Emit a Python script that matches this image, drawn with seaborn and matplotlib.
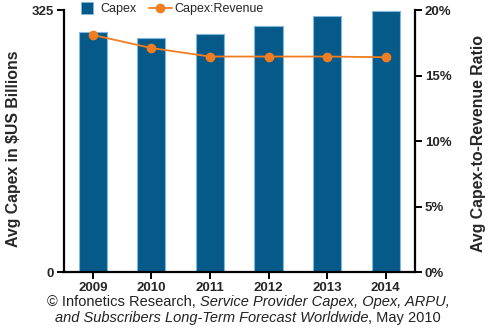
import matplotlib
matplotlib.use("Agg")
import matplotlib.pyplot as plt
import seaborn as sns
import pandas as pd
from matplotlib.lines import Line2D

years = ["2009", "2010", "2011", "2012", "2013", "2014"]
capex = [298, 290, 295, 305, 318, 324]
ratio = [18.1, 17.1, 16.45, 16.45, 16.45, 16.4]
left_ticks = [0, 325]
right_ticks = [0, 5, 10, 15, 20]

sns.set_style("white")
plt.rcParams["font.family"] = ["Liberation Sans", "DejaVu Sans"]

BLUE = "#065a8a"
ORANGE = "#f07d1f"

df = pd.DataFrame({"year": years, "capex": capex, "ratio": ratio})

fig = plt.figure(figsize=(5, 3.35), dpi=100)
ax = fig.add_axes([0.127, 0.188, 0.703, 0.782])
sns.barplot(data=df, x="year", y="capex", ax=ax, color=BLUE, width=0.48,
            edgecolor="#7fb8dc", linewidth=0.8, saturation=1)
ax.set_ylim(0, 325)
ax.set_xlim(-0.5, len(years) - 0.5)
ax.set_yticks(left_ticks)
ax.set_yticklabels([str(v) for v in left_ticks])
ax.set_xlabel("")
ax.set_ylabel("Avg Capex in $US Billions", fontsize=11.4, fontweight="bold")
ax.yaxis.set_label_coords(-0.12, 0.47)

ax2 = ax.twinx()
sns.pointplot(data=df, x="year", y="ratio", ax=ax2, color=ORANGE, markers="o",
              markersize=6, linewidth=1.3)
ax2.set_ylim(0, 20)
ax2.set_xlim(-0.5, len(years) - 0.5)
ax2.set_yticks(right_ticks)
ax2.set_yticklabels([f"{v}%" for v in right_ticks])
ax2.set_ylabel("Avg Capex-to-Revenue Ratio", fontsize=11.4, fontweight="bold")
ax2.yaxis.set_label_coords(1.16, 0.49)
ax2.set_xlabel("")

for a in (ax, ax2):
    for s in ["left", "right", "bottom"]:
        a.spines[s].set_visible(True)
        a.spines[s].set_color("black")
        a.spines[s].set_linewidth(1.6)
    a.spines["top"].set_visible(False)
    a.tick_params(axis="both", direction="out", length=5, width=1.4, color="black",
                  labelsize=9.5, pad=2)
    for lab in a.get_xticklabels() + a.get_yticklabels():
        lab.set_fontweight("bold")
ax.spines["right"].set_visible(False)
ax2.spines["left"].set_visible(False)
ax2.spines["bottom"].set_visible(False)
ax.tick_params(axis="y", left=True, right=False)
ax2.tick_params(axis="y", right=True, left=False)
ax.tick_params(axis="x", bottom=True)

handles = [
    Line2D([], [], marker="s", linestyle="none", markersize=9, color=BLUE,
           markeredgecolor="#7fb8dc", markeredgewidth=0.5),
    Line2D([], [], marker="o", linestyle="-", markersize=6, color=ORANGE, linewidth=1.3),
]
ax2.legend(handles, ["Capex", "Capex:Revenue"], loc="upper left",
           bbox_to_anchor=(0.02, 1.045), ncol=2, frameon=False, fontsize=9,
           handlelength=1.8, handletextpad=0.2, columnspacing=1.0, borderaxespad=0)

# Caption with mixed italic
fig.canvas.draw()
renderer = fig.canvas.get_renderer()

def draw_line(pieces, y):
    texts = []
    for txt, style in pieces:
        t = fig.text(0, y, txt, fontsize=10.5, style=style, color="#222222",
                     ha="left", va="center")
        texts.append(t)
    widths = [t.get_window_extent(renderer).width for t in texts]
    total = sum(widths)
    x = 248 - total / 2
    for t, w in zip(texts, widths):
        t.set_x(x / 500)
        x += w

draw_line([("© Infonetics Research, ", "normal"),
           ("Service Provider Capex, Opex, ARPU,", "italic")], 1 - 302 / 335)
draw_line([("and Subscribers Long-Term Forecast Worldwide", "italic"),
           (", May 2010", "normal")], 1 - 318 / 335)

fig.savefig("out.png", dpi=100)
